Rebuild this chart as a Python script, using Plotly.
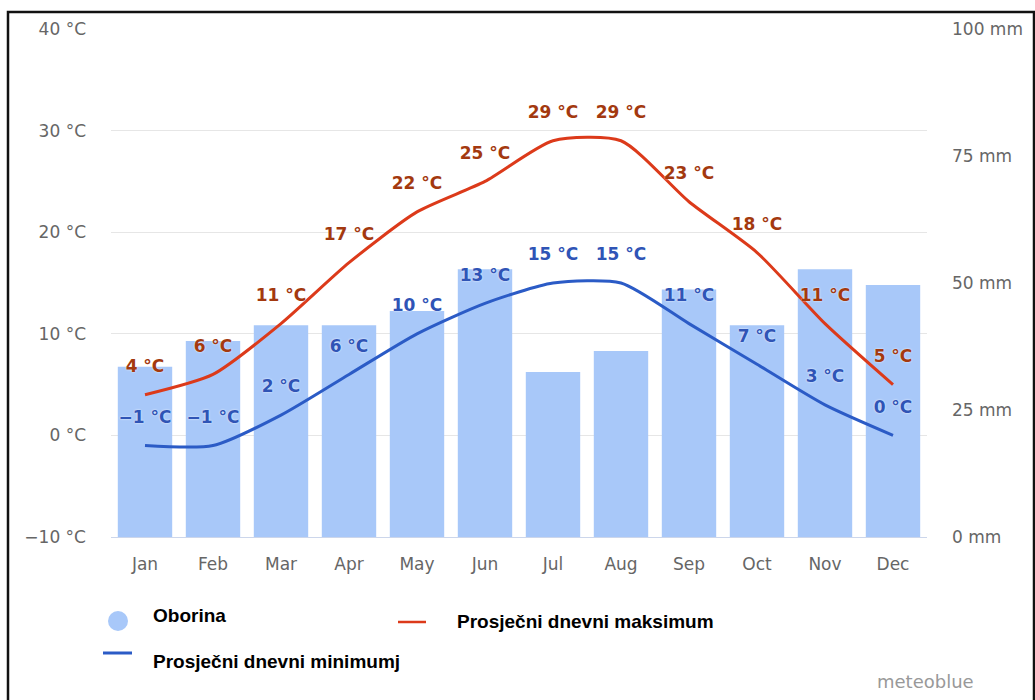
import plotly.graph_objects as go

# Monthly climate data
months = ["Jan", "Feb", "Mar", "Apr", "May", "Jun", "Jul", "Aug", "Sep", "Oct", "Nov", "Dec"]
precip_mm = [33.5, 38.6, 41.7, 41.7, 44.5, 52.7, 32.5, 36.6, 48.7, 41.7, 52.7, 49.6]
temp_max = [4, 6, 11, 17, 22, 25, 29, 29, 23, 18, 11, 5]
temp_min = [-1, -1, 2, 6, 10, 13, 15, 15, 11, 7, 3, 0]

temp_ticks = [-10, 0, 10, 20, 30, 40]
temp_tick_text = ["\u221210 °C", "0 °C", "10 °C", "20 °C", "30 °C", "40 °C"]
precip_ticks = [0, 25, 50, 75, 100]
precip_tick_text = ["0 mm", "25 mm", "50 mm", "75 mm", "100 mm"]

legend_names = ["Oborina", "Prosječni dnevni maksimum", "Prosječni dnevni minimumj"]

BAR_COLOR = "#a8c8f9"
MAX_LINE = "#dc3a1a"
MAX_TEXT = "#a3390f"
MIN_LINE = "#2b5bc6"
MIN_TEXT = "#2f54b6"
AXIS_FONT = dict(family="DejaVu Sans", size=17, color="#666666")


def fmt(v):
    return ("\u2212" if v < 0 else "") + f"{abs(v)} °C"


fig = go.Figure()

# Precipitation bars on the right-hand axis (base layer)
fig.add_trace(go.Bar(
    x=months, y=precip_mm, yaxis="y", marker=dict(color=BAR_COLOR, line=dict(width=0)),
    name=legend_names[0], showlegend=False, hoverinfo="skip",
))

label_font = dict(family="DejaVu Sans", size=17, weight="bold")

for vals, line_c, text_c, nm in [
    (temp_max, MAX_LINE, MAX_TEXT, legend_names[1]),
    (temp_min, MIN_LINE, MIN_TEXT, legend_names[2]),
]:
    fig.add_trace(go.Scatter(
        x=months, y=vals, yaxis="y2", mode="lines+markers+text",
        line=dict(color=line_c, width=3, shape="spline", smoothing=0.65),
        marker=dict(size=28, color="rgba(0,0,0,0)"),
        text=[fmt(v) for v in vals], textposition="top center",
        textfont=dict(color=text_c, shadow="0px 0px 2px white", **label_font),
        name=nm, showlegend=False, hoverinfo="skip", cliponaxis=False,
    ))

fig.update_layout(
    width=1035, height=700,
    margin=dict(l=111, r=108, t=29, b=163),
    paper_bgcolor="white", plot_bgcolor="white",
    bargap=0.2,
    xaxis=dict(
        type="category", range=[-0.5, len(months) - 0.5],
        showgrid=False, showline=True, linecolor="#ccd6eb", linewidth=1,
        ticks="", tickfont=AXIS_FONT, ticklabelstandoff=12, automargin=False,
    ),
    yaxis=dict(
        range=[0, 100], side="right", tickvals=precip_ticks, ticktext=precip_tick_text,
        showgrid=False, zeroline=False, tickfont=AXIS_FONT, ticklabelstandoff=24,
        automargin=False,
    ),
    yaxis2=dict(
        range=[-10, 40], side="left", overlaying="y", tickvals=temp_ticks,
        ticktext=temp_tick_text, showgrid=True, gridcolor="#e6e6e6", gridwidth=1,
        zeroline=False, tickfont=AXIS_FONT, ticklabelstandoff=24, automargin=False,
    ),
)


def px_x(p):
    return (p - 111) / 816


def px_y(p):
    return (537 - p) / 508


# Frame around the chart
fig.add_shape(type="rect", xref="paper", yref="paper",
              x0=px_x(8), x1=px_x(1034), y0=px_y(705), y1=px_y(12),
              line=dict(color="#111111", width=2.5), fillcolor="rgba(0,0,0,0)", layer="above")

# Legend drawn below the plot area
legend_font = dict(family="Liberation Sans", size=19, color="#000000", weight="bold")

fig.add_shape(type="circle", xref="paper", yref="paper",
              x0=px_x(108), x1=px_x(128), y0=px_y(631), y1=px_y(611),
              fillcolor=BAR_COLOR, line=dict(width=0))
fig.add_shape(type="line", xref="paper", yref="paper",
              x0=px_x(398), x1=px_x(426), y0=px_y(622), y1=px_y(622),
              line=dict(color=MAX_LINE, width=2.5))
fig.add_shape(type="line", xref="paper", yref="paper",
              x0=px_x(103), x1=px_x(132), y0=px_y(653), y1=px_y(653),
              line=dict(color=MIN_LINE, width=3))

for txt, x, y in [(legend_names[0], 151, 615), (legend_names[1], 455, 621), (legend_names[2], 151, 661)]:
    fig.add_annotation(text=txt, xref="paper", yref="paper", x=px_x(x), y=px_y(y),
                       xanchor="left", yanchor="middle", showarrow=False, font=legend_font)

fig.add_annotation(text="meteoblue", xref="paper", yref="paper", x=px_x(976), y=px_y(681),
                   xanchor="right", yanchor="middle", showarrow=False,
                   font=dict(family="DejaVu Sans", size=18, color="#999999"))

fig.write_html("out.html")
